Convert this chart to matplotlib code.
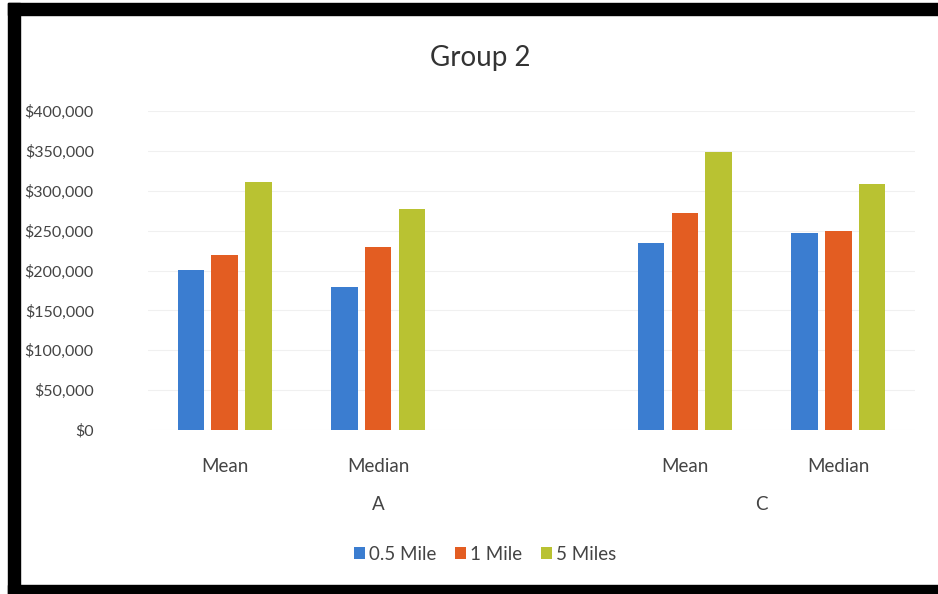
import numpy as np
import matplotlib.pyplot as plt
from matplotlib.patches import Rectangle

plt.rcParams['font.family'] = ['Lato', 'DejaVu Sans']

categories = ["Mean", "Median", "", "Mean", "Median"]
groups = ["A", "C"]
half_mile = [201000, 179000, np.nan, 235000, 247000]
one_mile = [219000, 229000, np.nan, 272000, 250000]
five_miles = [311000, 277000, np.nan, 348000, 308000]
series_names = ["0.5 Mile", "1 Mile", "5 Miles"]
colors = ["#3b7dd0", "#e35d22", "#b9c232"]

fig = plt.figure(figsize=(9.38, 5.94), dpi=100)
ax = fig.add_axes([148 / 938, (594 - 430) / 594, (915 - 148) / 938, (430 - 111) / 594])

x = np.arange(len(categories))
w = 0.173
off = 0.22
for i, vals in enumerate([half_mile, one_mile, five_miles]):
    ax.bar(x + (i - 1) * off, vals, width=w, color=colors[i], label=series_names[i], zorder=3)

ax.set_xlim(-0.5, len(categories) - 0.5)
ax.set_ylim(0, 400000)
ax.set_yticks(np.arange(0, 400001, 50000))
ax.set_yticklabels(["$0"] + ["${:,}".format(v) for v in range(50000, 400001, 50000)])
ax.grid(axis='y', color='#f0f0f0', linewidth=0.8, zorder=0)
ax.set_xticks(x)
ax.set_xticklabels(categories)
ax.tick_params(axis='both', length=0, labelsize=13.5, colors='#444444')
ax.tick_params(axis='y', pad=39, labelsize=11.5)
ax.tick_params(axis='x', pad=20)
for s in ax.spines.values():
    s.set_visible(False)

# group labels of the two-level category axis
tr = ax.get_xaxis_transform()
ax.text(1.0, -0.235, groups[0], transform=tr, ha='center', va='center', fontsize=13.5, color='#444444')
ax.text(3.5, -0.235, groups[1], transform=tr, ha='center', va='center', fontsize=13.5, color='#444444')

fig.suptitle("Group 2", x=480 / 938, y=1 - 58 / 594, va='center', fontsize=20, color='#333333')

fig.legend(loc='center', bbox_to_anchor=(485 / 938, 1 - 554 / 594), ncol=3, frameon=False,
           fontsize=13.5, handlelength=0.6, handleheight=0.6, handletextpad=0.2,
           columnspacing=1.0, labelcolor='#444444')

# black frame from the scan: top, left, bottom
fig.patches.append(Rectangle((8 / 938, (594 - 15) / 594), 930 / 938, 12 / 594,
                             transform=fig.transFigure, color='black', zorder=10))
fig.patches.append(Rectangle((8 / 938, 0), 12 / 938, (594 - 3) / 594,
                             transform=fig.transFigure, color='black', zorder=10))
fig.patches.append(Rectangle((8 / 938, 0), 930 / 938, 9 / 594,
                             transform=fig.transFigure, color='black', zorder=10))

fig.savefig("out.png", dpi=100)
